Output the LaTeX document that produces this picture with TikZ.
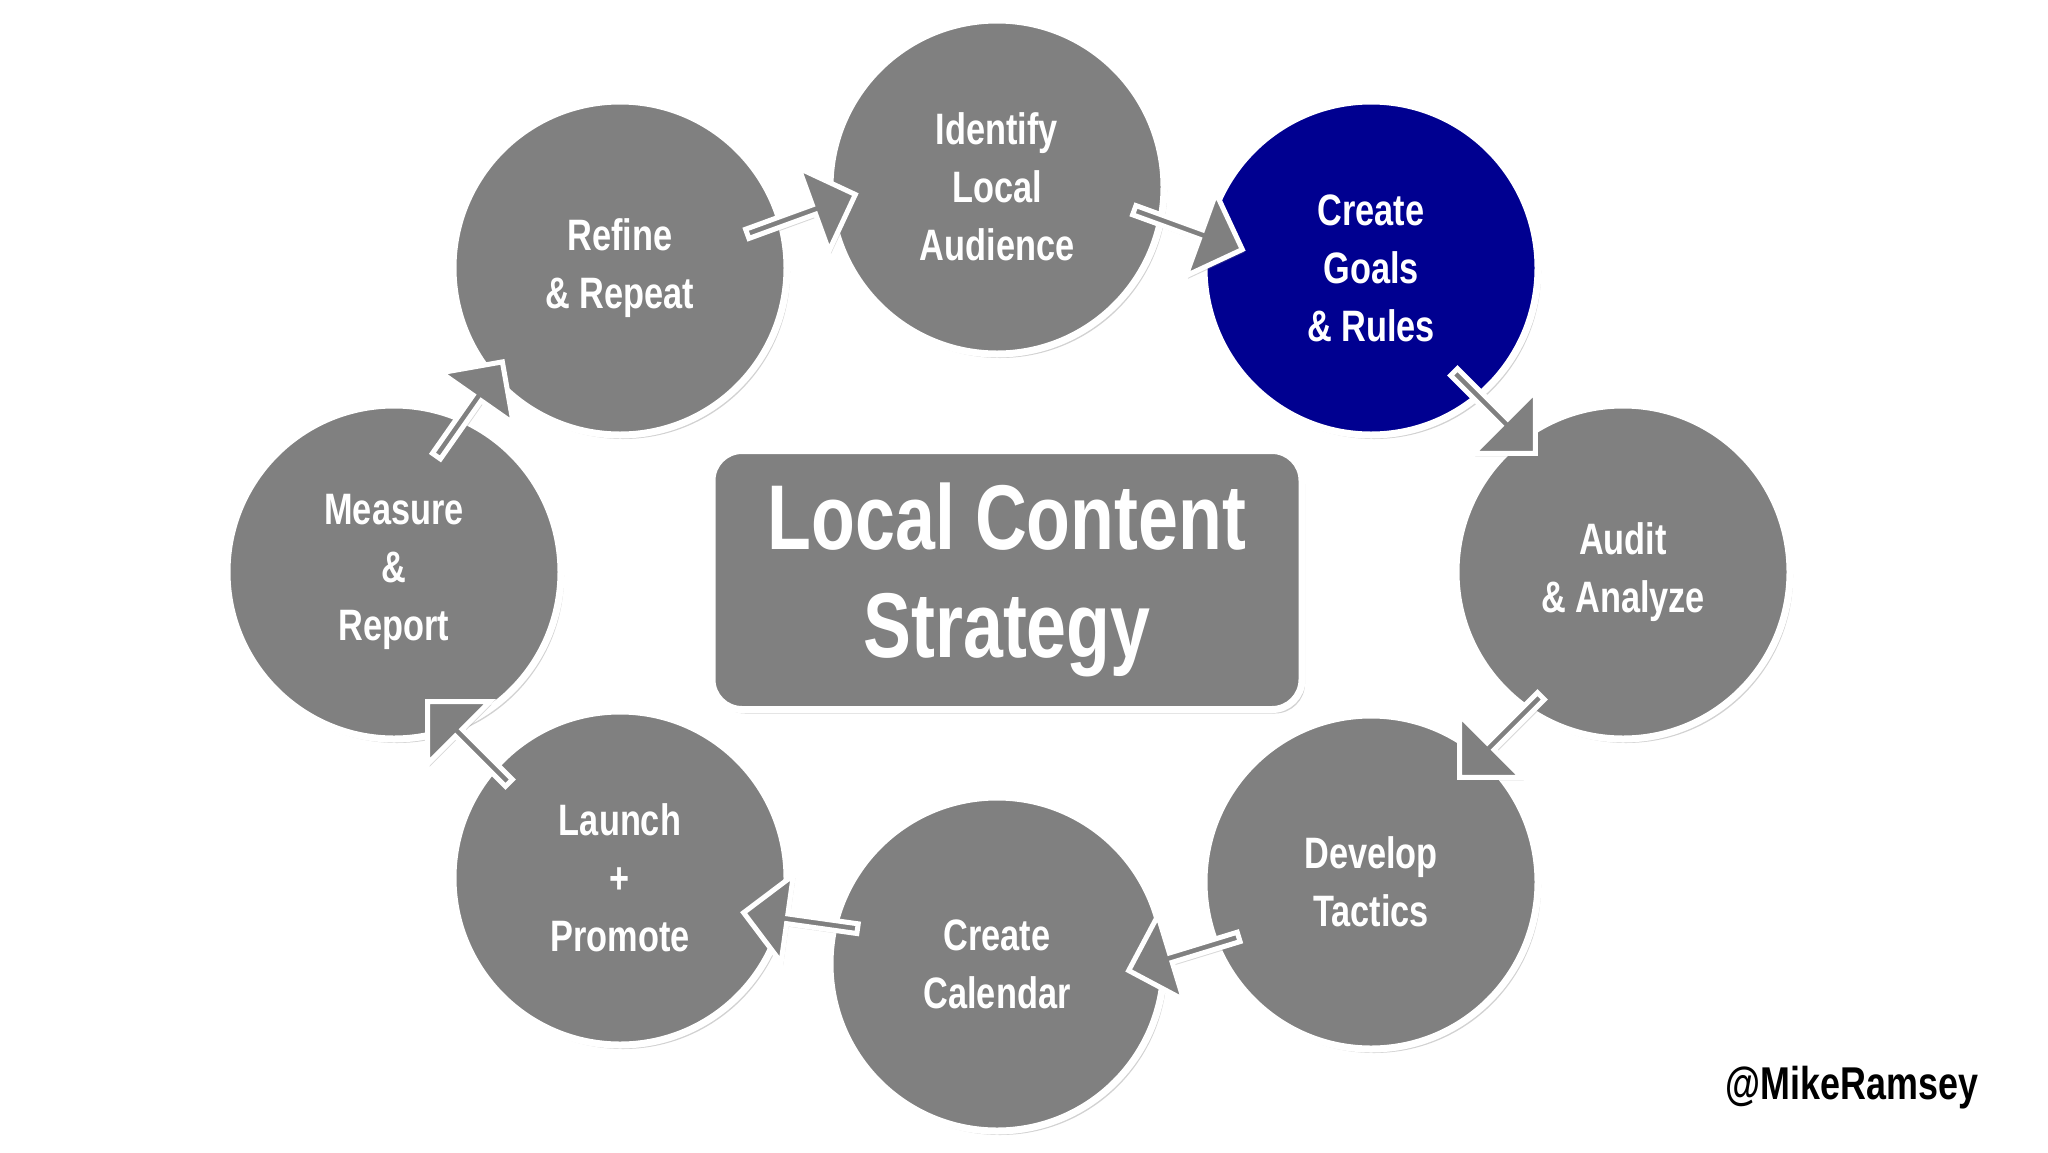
\documentclass[tikz,border=0pt]{standalone}
\usepackage{fontspec}
\setmainfont{Liberation Sans}[BoldFont={* Bold},BoldFeatures={FakeStretch=0.78}]
\usetikzlibrary{shapes.arrows,shadows}
\definecolor{stepgray}{HTML}{808080}
\definecolor{stepnavy}{HTML}{000090}
\tikzset{
 stepcirc/.style={circle,fill=stepgray,draw=white,line width=7pt,minimum size=334pt,inner sep=0pt,
   text=white,font=\fontsize{44}{58}\selectfont\bfseries,align=center,
   drop shadow={shadow xshift=3pt,shadow yshift=-4pt,opacity=0.35}},
 flowarrow/.style={single arrow,fill=stepgray,draw=white,line width=5pt,minimum height=115pt,
   minimum width=88pt,single arrow head extend=20pt,inner sep=0pt,
   drop shadow={shadow xshift=2pt,shadow yshift=-3pt,opacity=0.3}},
}
\begin{document}
\begin{tikzpicture}[x=1pt,y=-1pt]
\useasboundingbox[fill=white] (0,0) rectangle (2048,1152);
\node[stepcirc] (id) at (997,187) {Identify\\Local\\Audience};
\node[stepcirc,fill=stepnavy] (goals) at (1371,268) {Create\\Goals\\\& Rules};
\node[stepcirc] (audit) at (1623,572) {Audit\\\& Analyze};
\node[stepcirc] (dev) at (1371,882) {Develop\\Tactics};
\node[stepcirc] (cal) at (997,964) {Create\\Calendar};
\node[stepcirc] (launch) at (620,878) {Launch\\+\\Promote};
\node[stepcirc] (meas) at (394,572) {Measure\\\&\\Report};
\node[stepcirc] (refine) at (620,268) {Refine\\\& Repeat};
\node[rounded corners=30pt,fill=stepgray,draw=white,line width=7pt,minimum width=590pt,minimum height=259pt,
  text=white,font=\fontsize{92}{108}\selectfont\bfseries,align=center,
  drop shadow={shadow xshift=3pt,shadow yshift=-4pt,opacity=0.35}] (title) at (1007,580) {Local Content\\Strategy};
\node[flowarrow,rotate=20] (a1) at (799,215) {};
\node[flowarrow,rotate=-20] (a2) at (1186,229) {};
\node[flowarrow,rotate=-45] (a3) at (1493,411) {};
\node[flowarrow,rotate=-135] (a4) at (1502,735) {};
\node[flowarrow,rotate=197] (a5) at (1186,953) {};
\node[flowarrow,rotate=172] (a6) at (803,921) {};
\node[flowarrow,rotate=135] (a7) at (470,744) {};
\node[flowarrow,rotate=55] (a8) at (468,411) {};
\node[font=\fontsize{46}{50}\selectfont\bfseries] (handle) at (1852,1088) {@MikeRamsey};
\end{tikzpicture}
\end{document}
